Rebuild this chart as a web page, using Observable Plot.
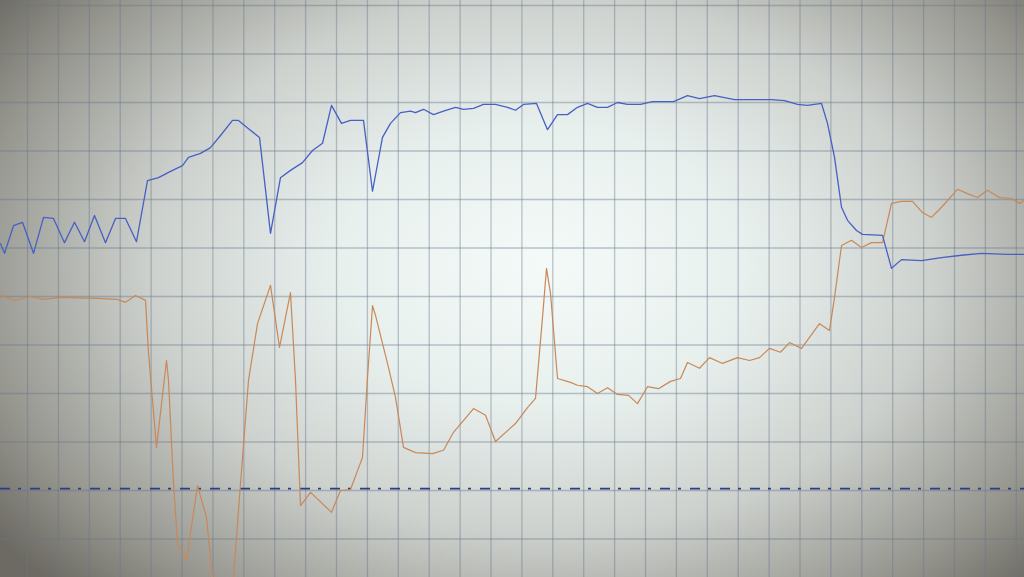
<!DOCTYPE html>
<html>
<head>
<meta charset="utf-8">
<script src="https://cdn.jsdelivr.net/npm/d3@7"></script>
<script src="https://cdn.jsdelivr.net/npm/@observablehq/plot@0.6"></script>
<style>
  html, body { margin: 0; padding: 0; width: 1024px; height: 577px; overflow: hidden; }
  body {
    background: radial-gradient(ellipse 66% 80% at 53% 46%, #f4faf8 0%, #e8f0ee 30%, #cdd1cd 58%, #979790 84%, #6c6a62 100%);
  }
  #chart svg { display: block; }
</style>
</head>
<body>
<div id="chart"></div>
<script>
// Blue series: [time, value]
const blueT = [1.26,2.56,5.47,8.38,11.94,15.18,18.41,21.97,25.21,28.45,31.68,35.24,38.48,41.71,45.27,48.83,52.39,56.28,60.16,62.10,65.98,69.22,72.46,76.34,78.28,81.52,85.08,88.64,91.87,95.11,98.99,102.23,105.47,108.38,111.61,114.53,118.73,121.65,124.88,127.47,130.71,133.94,135.56,138.15,141.39,144.63,148.51,151.10,154.34,157.57,161.45,165.34,167.92,170.51,174.72,178.28,181.52,184.75,187.99,191.23,194.46,197.70,200.94,204.17,208.38,212.26,219.06,223.59,227.47,232.33,238.80,245.28,250.78,254.98,259.19,262.42,266.96,268.90,271.17,273.43,275.37,278.28,280.23,286.70,289.61,292.85,299.32,305.79,312.27,318.74,327.15,332.65];
const blueV = [50.9,48.9,54.6,55.3,48.9,56.3,56.1,51.1,55.3,51.3,56.7,51.1,56.1,56.1,51.3,63.9,64.5,65.8,67.0,68.7,69.5,70.7,73.2,76.3,76.3,74.6,72.8,53.0,64.5,66.0,67.6,70.1,71.6,79.4,75.7,76.3,76.3,61.7,72.8,75.7,77.9,78.2,77.9,78.6,77.5,78.2,79.0,78.6,78.8,79.6,79.6,79.0,78.4,79.6,79.8,74.4,77.5,77.5,79.0,79.8,79.0,79.0,80.0,79.6,79.6,80.2,80.2,81.4,80.8,81.4,80.6,80.6,80.6,80.4,79.6,79.4,79.8,75.7,68.7,58.4,55.7,53.6,52.8,52.6,45.8,47.6,47.4,48.0,48.5,48.9,48.7,48.7];

// Orange series: [time, value]
const orangeT = [1.26,6.12,10.97,15.18,20.68,32.65,39.13,41.71,44.95,48.19,49.16,51.75,54.98,55.63,57.25,58.54,61.46,65.02,67.93,69.87,73.11,76.67,78.93,81.52,84.43,88.64,91.55,95.11,96.73,98.35,101.59,108.38,111.29,114.53,116.80,118.41,120.03,121.65,122.62,126.50,129.09,131.68,135.56,141.07,144.63,147.86,154.34,158.22,161.45,167.92,171.81,174.40,176.67,177.96,179.26,181.52,185.73,187.99,191.23,194.46,197.70,200.94,204.50,207.41,210.65,214.21,218.09,221.33,223.59,227.47,230.71,234.92,239.77,243.66,246.89,250.13,253.69,256.60,260.49,266.31,269.55,271.17,273.43,276.67,279.90,283.14,286.70,289.61,292.85,296.41,299.64,302.56,305.79,310.97,314.21,317.44,320.68,324.56,328.45,331.04,332.65];
const orangeV = [40.2,39.2,40.0,39.4,39.8,39.6,39.4,38.8,40.2,39.2,28.3,8.9,26.8,22.7,1.4,-10.9,-14.4,1.0,-5.6,-17.9,-30.9,-17.9,1.4,22.7,34.4,42.3,29.5,40.8,22.7,-3.1,-0.4,-4.5,0.0,0.2,4.1,6.8,23.3,38.1,36.1,26.2,19.2,8.9,7.8,7.6,8.3,12.0,16.9,15.5,10.1,13.8,17.1,19.0,35.7,45.8,40.6,23.1,22.3,21.7,21.4,20.0,21.2,19.8,19.6,17.9,21.4,21.0,22.5,23.1,26.4,25.2,27.4,26.2,27.4,26.8,27.4,29.3,28.5,30.5,29.3,34.4,33.0,39.8,50.5,51.6,50.1,51.1,51.1,59.2,59.6,59.6,57.3,56.3,58.4,62.1,61.2,60.4,61.9,60.4,60.2,59.2,59.8];

// Reference (dash-dot) level
const refLevel = [0.4];

// Grid tick values
const gridXTicks = d3.range(10, 331, 10);
const gridYTicks = d3.range(-10, 101, 10);

const blue = blueT.map((t, i) => ({t, v: blueV[i]}));
const orange = orangeT.map((t, i) => ({t, v: orangeV[i]}));

const chart = Plot.plot({
  width: 1024,
  height: 577,
  margin: 0,
  style: {background: "transparent"},
  x: {domain: [1.26, 332.65], axis: null},
  y: {domain: [-17.94, 101.03], axis: null},
  marks: [
    Plot.ruleX(gridXTicks, {stroke: "#66788c", strokeOpacity: 0.42, strokeWidth: 1.3}),
    Plot.ruleY(gridYTicks, {stroke: "#66788c", strokeOpacity: 0.42, strokeWidth: 1.3}),
    Plot.ruleY(refLevel, {stroke: "#2c3d86", strokeWidth: 1.8, strokeDasharray: "10,8,3,9"}),
    Plot.line(orange, {x: "t", y: "v", stroke: "#c98858", strokeWidth: 1.2, clip: true}),
    Plot.line(blue, {x: "t", y: "v", stroke: "#4760c4", strokeWidth: 1.3, clip: true})
  ]
});
document.getElementById("chart").appendChild(chart);
</script>
</body>
</html>
